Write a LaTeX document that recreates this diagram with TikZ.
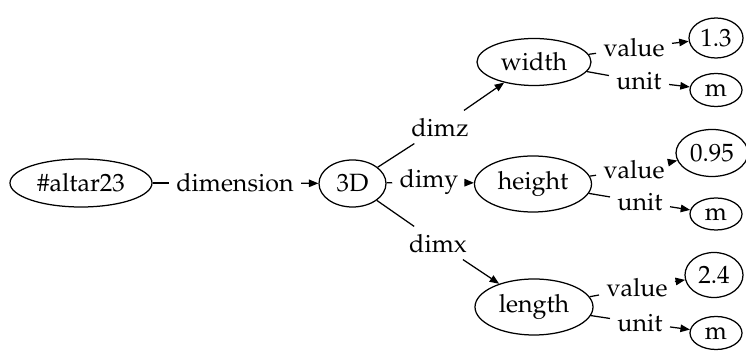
\documentclass[tikz,border=0pt]{standalone}
\usepackage[T1]{fontenc}
\usepackage{mathpazo}
\usetikzlibrary{arrows.meta,shapes.geometric}
\begin{document}
\begin{tikzpicture}[x=0.4pt,y=-0.4pt,
  font=\fontsize{10}{12}\selectfont,
  obj/.style={draw, ellipse, inner sep=0pt, line width=0.5pt},
  lbl/.style={inner sep=2.8pt},
  link/.style={draw, line width=0.5pt},
  tip/.style={link, -{Triangle[length=3.8pt,width=3pt]}}]
\useasboundingbox (0,0) rectangle (746,351);
% objects
\node[obj, minimum width=142*0.4pt, minimum height=48*0.4pt] (alt) at (81,183) {\#altar23};
\node[obj, minimum width=67*0.4pt, minimum height=47*0.4pt] (d3) at (352.5,183.5) {3D};
\node[obj, minimum width=114*0.4pt, minimum height=47*0.4pt] (wid) at (534,62) {width};
\node[obj, minimum width=117*0.4pt, minimum height=56*0.4pt] (hei) at (533,184) {height};
\node[obj, minimum width=118*0.4pt, minimum height=56*0.4pt] (len) at (534,307) {length};
\node[obj, minimum width=54*0.4pt, minimum height=40*0.4pt] (v1) at (716,38) {1.3};
\node[obj, minimum width=52*0.4pt, minimum height=33*0.4pt] (m1) at (716,90) {m};
\node[obj, minimum width=72*0.4pt, minimum height=47*0.4pt] (v2) at (712,153) {0.95};
\node[obj, minimum width=52*0.4pt, minimum height=32*0.4pt] (m2) at (716,214) {m};
\node[obj, minimum width=58*0.4pt, minimum height=45*0.4pt] (v3) at (714,275) {2.4};
\node[obj, minimum width=52*0.4pt, minimum height=33*0.4pt] (m3) at (716,333) {m};
% edge labels
\node[lbl] (ldim) at (235,183) {dimension};
\node[lbl] (lz) at (440,127) {dimz};
\node[lbl] (ly) at (429,182) {dimy};
\node[lbl] (lx) at (438,243) {dimx};
\node[lbl] (lv1) at (634,48) {value};
\node[lbl] (lu1) at (639,81) {unit};
\node[lbl] (lv2) at (634,170) {value};
\node[lbl] (lu2) at (640,202) {unit};
\node[lbl] (lv3) at (637,288) {value};
\node[lbl] (lu3) at (640,323) {unit};
% edges
\draw[link] (alt) -- (ldim);  \draw[tip] (ldim) -- (d3);
\draw[link] (d3) -- (lz);     \draw[tip] (lz) -- (wid);
\draw[link] (d3) -- (ly);     \draw[tip] (ly) -- (hei);
\draw[link] (d3) -- (lx);     \draw[tip] (lx) -- (len);
\draw[link] (wid) -- (lv1);   \draw[tip] (lv1) -- (v1);
\draw[link] (wid) -- (lu1);   \draw[tip] (lu1) -- (m1);
\draw[link] (hei) -- (lv2);   \draw[tip] (lv2) -- (v2);
\draw[link] (hei) -- (lu2);   \draw[tip] (lu2) -- (m2);
\draw[link] (len) -- (lv3);   \draw[tip] (lv3) -- (v3);
\draw[link] (len) -- (lu3);   \draw[tip] (lu3) -- (m3);
\end{tikzpicture}
\end{document}
